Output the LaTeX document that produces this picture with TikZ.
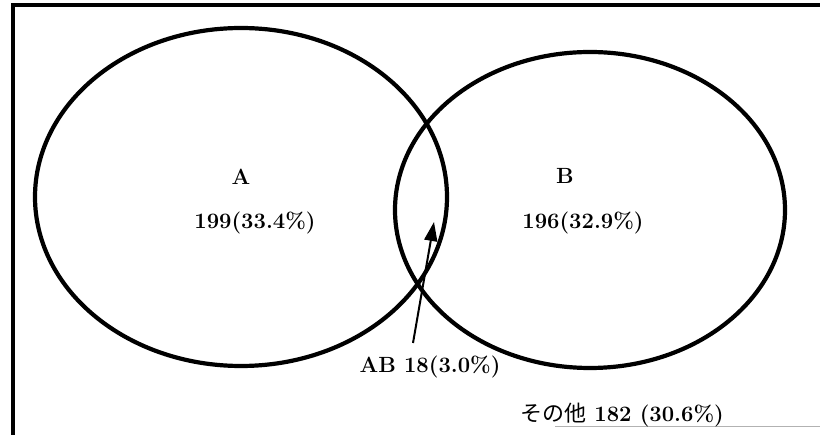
\documentclass[tikz,border=0pt]{standalone}
\usepackage{fontspec}
\newfontfamily\jpfont{Noto Sans CJK JP}
\usetikzlibrary{arrows.meta}
\tikzset{
  ring/.style={line width=4.2pt},
  lbl/.style={font=\bfseries\fontsize{22}{26}\selectfont, inner sep=0pt}
}
\begin{document}
\begin{tikzpicture}[x=1pt, y=-1pt]
  \useasboundingbox (0,0) rectangle (820,435);
  \coordinate (TL) at (13,5);
  \coordinate (TR) at (820,5);
  \coordinate (BL) at (13,435);
  \draw[line width=4pt] (BL) -- (TL) -- (TR);
  \draw[gray!60, line width=1pt] (555,427) -- (820,427);
  \draw[ring] (241,197) ellipse (206 and 169);
  \draw[ring] (590,210) ellipse (195 and 158);
  \node[lbl] (A) at (241,177) {A};
  \node[lbl] (Acount) at (255,223) {199(33.4\%)};
  \node[lbl] (B) at (565,176) {B};
  \node[lbl] (Bcount) at (583,223) {196(32.9\%)};
  \node[lbl] (AB) at (430,367) {AB 18(3.0\%)};
  \node[lbl] (other) at (622,415) {{\jpfont\mdseries その他} 182 (30.6\%)};
  \coordinate (ABfoot) at (413,343);
  \coordinate (ABtip) at (434,222);
  \draw[line width=2pt, -{Triangle[length=19pt, width=13pt]}] (ABfoot) -- (ABtip);
\end{tikzpicture}
\end{document}
